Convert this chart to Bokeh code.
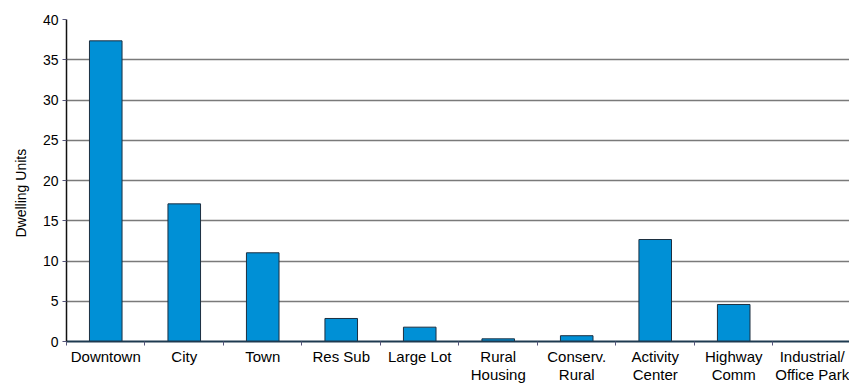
from bokeh.plotting import figure
from bokeh.models import FixedTicker, Range1d, ColumnDataSource, Title
from bokeh.embed import file_html
from bokeh.resources import INLINE

categories = ["Downtown", "City", "Town", "Res Sub", "Large Lot", "Rural\nHousing",
              "Conserv.\nRural", "Activity\nCenter", "Highway\nComm", "Industrial/\nOffice Park"]
values = [37.35, 17.1, 11.02, 2.86, 1.78, 0.33, 0.72, 12.67, 4.6, 0.0]
y_ticks = [0, 5, 10, 15, 20, 25, 30, 35, 40]
y_title = "Dwelling Units"

n = len(categories)
centers = [i + 0.5 for i in range(n)]
bounds = [float(i) for i in range(n + 1)]

src = ColumnDataSource(dict(x=centers, top=values))

p = figure(width=849, height=385, output_backend="svg", toolbar_location=None,
           x_range=Range1d(0, 9.975), y_range=Range1d(0, 40),
           min_border_left=66, min_border_right=0, min_border_top=19, min_border_bottom=44)
p.outline_line_color = None
p.background_fill_color = "white"
p.border_fill_color = "white"

p.vbar(x="x", top="top", width=0.415, bottom=0, source=src,
       fill_color="#0090d6", line_color="#1c2f40", line_width=1)

# x axis: labels at category centres, tick marks at category boundaries
xa = p.xaxis[0]
xa.ticker = FixedTicker(ticks=centers, minor_ticks=bounds)
xa.major_label_overrides = {c: lab for c, lab in zip(centers, categories)}
xa.major_tick_out = 0
xa.major_tick_in = 0
xa.minor_tick_out = 4
xa.minor_tick_in = 0
xa.minor_tick_line_color = "#55557a"
xa.axis_line_color = "#1e3a50"
xa.axis_line_width = 2
xa.major_label_standoff = 2
xa.major_label_text_font = "Liberation Sans"
xa.major_label_text_font_size = "15px"
xa.major_label_text_color = "#000000"
xa.major_label_text_line_height = 1.07

# y axis
ya = p.yaxis[0]
ya.ticker = FixedTicker(ticks=y_ticks)
ya.minor_tick_line_color = None
ya.major_tick_out = 4
ya.major_tick_in = 0
ya.major_tick_line_color = "#55557a"
ya.axis_line_color = "#111111"
ya.axis_line_width = 1.5
ya.major_label_standoff = 4
ya.major_label_text_font = "Liberation Sans"
ya.major_label_text_font_size = "14px"
ya.major_label_text_color = "#000000"

# y axis title as a left-side title so it can be shifted along the axis
t = Title(text=y_title, align="left", offset=104, standoff=21,
          text_font="Liberation Sans", text_font_size="14px",
          text_font_style="normal", text_color="#000000")
p.add_layout(t, "left")

p.xgrid.grid_line_color = None
p.ygrid.ticker = FixedTicker(ticks=y_ticks)
p.ygrid.grid_line_color = "#7a7a7a"
p.ygrid.grid_line_width = 1.5

open("out.html", "w").write(file_html(p, INLINE))
